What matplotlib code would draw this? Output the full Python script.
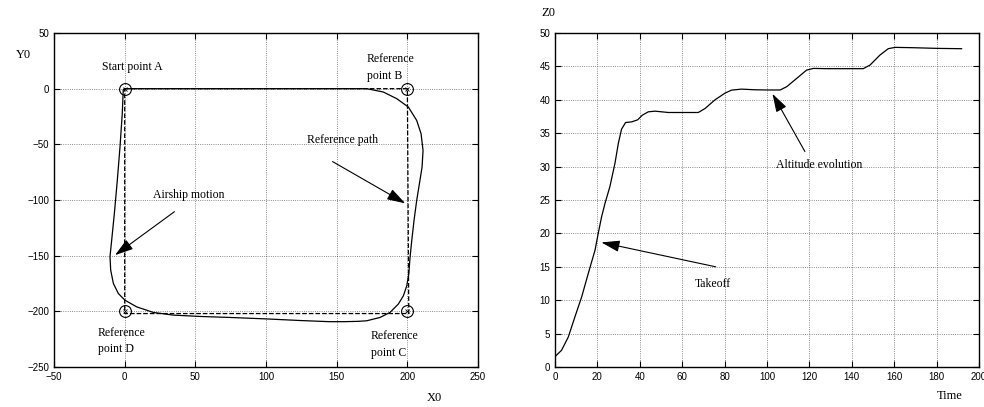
import matplotlib.pyplot as plt
import numpy as np

# airship path in the horizontal plane (clockwise from point A)
path_x = [0, 60, 120, 152.4, 171.2, 183, 192.5, 200.7, 206.6, 209.7, 211.1, 210.4, 208.5,
          206.6, 204.7, 203.1, 201.9, 201, 199.6, 197.2, 193.6, 187.7, 180.7, 171.2,
          165, 155, 145, 125, 100, 74.5, 53.3, 34.4, 20.3, 8.5, 0.2, -4.5, -8, -9.9,
          -10.4, -9.2, -7.3, -5.2, -3.3, -1.7, -1, 0]
path_y = [0, 0, 0, 0, 0, -3, -9, -16.5, -28.5, -40.5, -55.5, -70.5, -85.5,
          -100.5, -118.5, -136.5, -151.5, -166.5, -177, -186, -193.5, -201, -205.5, -208.5,
          -209, -209.3, -209.3, -208.3, -206.8, -205.5, -204.6, -203.4, -201, -196, -190, -184, -175, -163,
          -151, -136, -112, -82, -52, -22, -0.6, 0]

# reference rectangle and way points
ref_x = [0, 200, 201, 0, 0]
ref_y = [0, 0, -202, -202, 0]
pts_x = [0, 200, 200, 0]
pts_y = [0, 0, -200, -200]

# altitude vs time
t = [0, 3.1, 6.3, 9.4, 12.6, 15.7, 18.9, 20.4, 22, 23.6, 25.9, 28.3, 29.9, 31.4, 33.3,
     36.2, 39, 41.2, 44, 47.2, 53.5, 67.6, 70.8, 75.5, 80.2, 83.3, 88, 94.3, 100,
     106.2, 109.3, 114, 118.7, 121.9, 128.1, 145.4, 148.6, 153.3, 157.2, 160.4, 169, 180, 191.8]
z = [1.55, 2.5, 4.5, 7.5, 10.5, 14, 17.5, 20, 22.5, 24.5, 27, 30.5, 33.5, 35.6, 36.6,
     36.7, 37, 37.7, 38.2, 38.3, 38.1, 38.1, 38.7, 40, 41, 41.45, 41.6, 41.5, 41.47,
     41.47, 41.96, 43.2, 44.45, 44.7, 44.66, 44.66, 45.2, 46.7, 47.65, 47.85, 47.8, 47.7, 47.65]

serif = 'Liberation Serif'
sans = 'Liberation Sans'

fig = plt.figure(figsize=(9.84, 4.07), dpi=100)
ax1 = fig.add_axes([0.0549, 0.0983, 0.4309, 0.8206])
ax2 = fig.add_axes([0.564, 0.0983, 0.4309, 0.8206])

arrow = dict(arrowstyle='-|>,head_length=0.8,head_width=0.25', color='k', lw=0.8,
             mutation_scale=14, shrinkA=0, shrinkB=0)


def style(ax):
    ax.grid(True, linestyle=':', color='k', lw=0.6, alpha=0.6)
    ax.tick_params(direction='in', top=True, right=True, labelsize=7, length=4, width=0.8,
                   labelfontfamily=sans)
    for s in ax.spines.values():
        s.set_linewidth(1.0)


# left: horizontal trajectory
ax1.plot(ref_x, ref_y, 'k--', lw=0.9)
ax1.plot(path_x, path_y, 'k-', lw=0.9)
ax1.plot(pts_x, pts_y, 'ko', mfc='none', ms=8.5, mew=0.8)
ax1.plot(pts_x, pts_y, 'kx', ms=3.5, mew=0.6)
ax1.set_xlim(-50, 250)
ax1.set_ylim(-250, 50)
ax1.set_xticks([-50, 0, 50, 100, 150, 200, 250])
ax1.set_yticks([-250, -200, -150, -100, -50, 0, 50])
style(ax1)

ax1.text(-16.3, 19.4, 'Start point A', family=serif, fontsize=8.5, va='center')
ax1.text(171.4, 18.8, 'Reference\npoint B', family=serif, fontsize=8.5, va='center', linespacing=1.5)
ax1.text(128.9, -46, 'Reference path', family=serif, fontsize=8.5, va='center')
ax1.text(20.3, -95.5, 'Airship motion', family=serif, fontsize=8.5, va='center')
ax1.text(-19, -226.6, 'Reference\npoint D', family=serif, fontsize=8.5, va='center', linespacing=1.5)
ax1.text(174.2, -230, 'Reference\npoint C', family=serif, fontsize=8.5, va='center', linespacing=1.5)
ax1.annotate('', xy=(198.5, -103), xytext=(147.1, -65.5), arrowprops=arrow)
ax1.annotate('', xy=(-6.8, -149.5), xytext=(35.2, -110.5), arrowprops=arrow)

fig.text(16 / 984, 1 - 55 / 407, 'Y0', family=serif, fontsize=9, va='center')
fig.text(427 / 984, 1 - 398 / 407, 'X0', family=serif, fontsize=9, va='center')

# right: altitude
ax2.plot(t, z, 'k-', lw=0.9)
ax2.set_xlim(0, 200)
ax2.set_ylim(0, 50)
ax2.set_xticks(np.arange(0, 201, 20))
ax2.set_yticks(np.arange(0, 51, 5))
style(ax2)

ax2.text(104.2, 30.25, 'Altitude evolution', family=serif, fontsize=8.5, va='center')
ax2.text(65.8, 12.35, 'Takeoff', family=serif, fontsize=8.5, va='center')
ax2.annotate('', xy=(102.6, 40.9), xytext=(117.9, 32.25), arrowprops=arrow)
ax2.annotate('', xy=(21.9, 18.65), xytext=(75.8, 15), arrowprops=arrow)

fig.text(541 / 984, 1 - 13 / 407, 'Z0', family=serif, fontsize=9, va='center')
fig.text(937 / 984, 1 - 396 / 407, 'Time', family=serif, fontsize=9, va='center')

fig.savefig('out.png', dpi=100)
